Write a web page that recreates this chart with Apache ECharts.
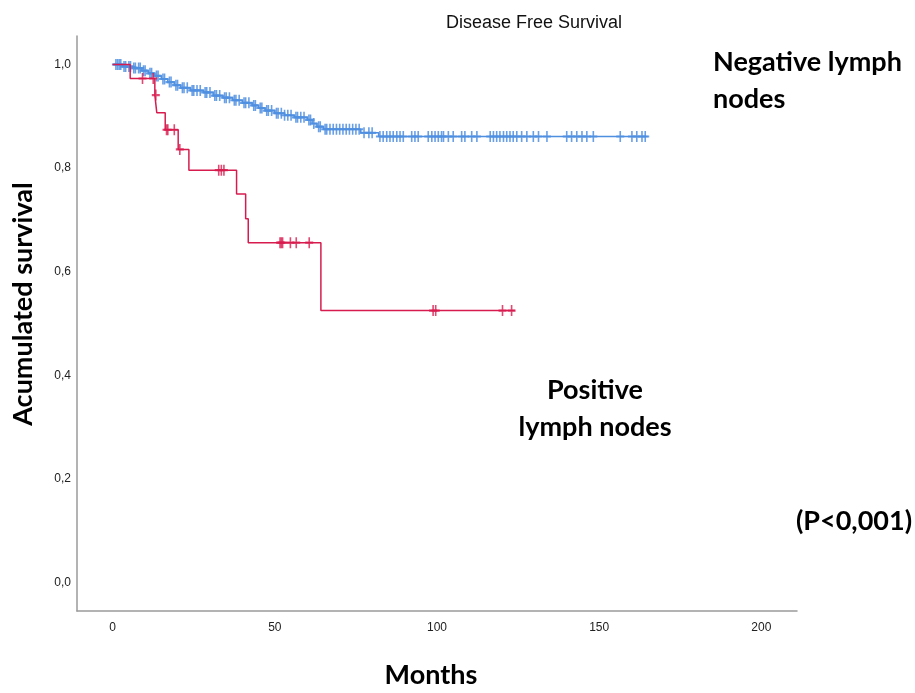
<!DOCTYPE html>
<html>
<head>
<meta charset="utf-8">
<script src="https://cdn.jsdelivr.net/npm/echarts@6/dist/echarts.min.js"></script>
<style>html,body{margin:0;padding:0;background:#fff}#c{width:915px;height:693px}</style>
</head>
<body>
<div id="c"></div>
<script>
// ---- data ----
var xTicks = [0, 50, 100, 150, 200];
var yTicks = [0, 0.2, 0.4, 0.6, 0.8, 1.0];

// Negative lymph nodes: event times (months) and survival after each event
var blueTimes = [0, 3, 6, 9, 11, 13, 15, 17, 19, 21, 24, 28, 31, 34, 37, 40, 43, 45, 47, 50, 53, 56, 60, 61.5, 63, 65, 76.5, 82];
var blueSurv  = [1.0, 0.996, 0.993, 0.988, 0.983, 0.978, 0.972, 0.966, 0.960, 0.955, 0.950, 0.946, 0.940, 0.936, 0.931, 0.926, 0.921, 0.916, 0.911, 0.906, 0.902, 0.898, 0.893, 0.886, 0.880, 0.875, 0.868, 0.861];
var blueEnd = 165;
var blueCensor = [1, 1.5, 2, 2.5, 3.5, 4, 5, 5.5, 6.5, 7, 8, 8.5, 9.5, 10, 11.5, 12, 13.5, 14, 15.5, 16, 17.5, 18, 19.5, 20, 21.5, 22, 23, 24.5, 25, 26, 27, 28.5, 29, 30, 31.5, 32, 33, 34.5, 35, 36, 37.5, 38, 39, 40.5, 41, 42, 43.5, 44, 45.5, 46, 47.5, 48, 49, 50.5, 51, 52, 53, 54, 55, 56.5, 57, 58, 59, 60.5, 61, 62, 63.5, 64, 65.5, 66, 67, 68, 69, 70, 71, 72, 73, 74, 75, 76, 77.5, 79, 80,
  82.4, 83.4, 84.5, 85.5, 86.5, 87.6, 88.6, 89.6, 92.2, 93.2, 94.2, 97.3, 98.4, 99.4, 100.4, 101.4, 102, 103.5, 105, 107.6, 108.6, 110.7, 112.3, 116.4, 117.4, 118.4, 119.4, 120.5, 121.5, 122.5, 123.5, 124.6, 126.1, 127.7, 129.7, 131.3, 133.9, 140, 141.5, 143.1, 144.7, 146.2, 148.2, 156.5, 160.1, 161.6, 163.2, 164.2];

// Positive lymph nodes
var redTimes = [0, 5.4, 13, 13.6, 16.2, 20.2, 23.5, 38.2, 41, 41.8, 64.2];
var redSurv  = [1.0, 0.973, 0.941, 0.907, 0.874, 0.836, 0.796, 0.750, 0.702, 0.656, 0.525];
var redEnd = 124;
var redCensor = [9.2, 12.5, 13.3, 16.6, 17, 19, 20.7, 32.7, 33.5, 34.3, 51.6, 52, 52.4, 54.8, 56.6, 60.6, 98.8, 99.6, 120.2, 123];

// ---- helpers ----
function stepData(times, surv, end) {
  var d = times.map(function (t, i) { return [t, surv[i]]; });
  d.push([end, surv[surv.length - 1]]);
  return d;
}
function survAt(times, surv, t) {
  var s = surv[0];
  for (var i = 0; i < times.length; i++) { if (times[i] <= t) s = surv[i]; }
  return s;
}
function censorData(times, surv, cens) {
  return cens.map(function (t) { return [t, survAt(times, surv, t)]; });
}

var BLUE = '#4f8fe0';
var RED = '#d81b4f';
var plus = 'path://M4,0 L6,0 L6,4 L10,4 L10,6 L6,6 L6,10 L4,10 L4,6 L0,6 L0,4 L4,4 Z';
var boldFont = 'bold 27px Lato';

var chart = echarts.init(document.getElementById('c'), null, { renderer: 'canvas' });
chart.setOption({
  animation: false,
  backgroundColor: '#fff',
  title: {
    text: 'Disease Free Survival',
    left: 529, top: 9, textAlign: 'center',
    textStyle: { fontFamily: 'Liberation Sans', fontSize: 18, fontWeight: 'normal', color: '#111' }
  },
  grid: { left: 77, right: 118, top: 36, bottom: 82, containLabel: false, outerBoundsMode: 'none' },
  xAxis: {
    type: 'value', min: -11, max: 211,
    axisLine: { show: true, onZero: false, lineStyle: { color: '#9a9a9a', width: 1.5 } },
    axisTick: { show: false },
    splitLine: { show: false },
    axisLabel: { customValues: xTicks, margin: 11, fontFamily: 'Liberation Sans', fontSize: 12, color: '#222' }
  },
  yAxis: {
    type: 'value', min: -0.055, max: 1.055,
    axisLine: { show: true, onZero: false, lineStyle: { color: '#9a9a9a', width: 1.5 } },
    axisTick: { show: false },
    splitLine: { show: false },
    axisLabel: {
      customValues: yTicks, margin: 6, fontFamily: 'Liberation Sans', fontSize: 12, color: '#222',
      formatter: function (v) { return v.toFixed(1).replace('.', ','); }
    }
  },
  series: [
    { type: 'line', step: 'end', showSymbol: false, data: stepData(blueTimes, blueSurv, blueEnd),
      lineStyle: { color: BLUE, width: 1.5 }, z: 2 },
    { type: 'scatter', symbol: plus, symbolSize: [8, 11], data: censorData(blueTimes, blueSurv, blueCensor),
      itemStyle: { color: BLUE, opacity: 0.85 }, z: 2 },
    { type: 'line', step: 'end', showSymbol: false, data: stepData(redTimes, redSurv, redEnd),
      lineStyle: { color: RED, width: 1.5 }, z: 3 },
    { type: 'scatter', symbol: plus, symbolSize: [8, 11], data: censorData(redTimes, redSurv, redCensor),
      itemStyle: { color: RED }, z: 3 }
  ],
  graphic: [
    { type: 'text', x: 23, y: 304, rotation: Math.PI / 2,
      style: { text: 'Acumulated survival', font: boldFont, fill: '#000', align: 'center', verticalAlign: 'middle' } },
    { type: 'text', x: 431, y: 675,
      style: { text: 'Months', font: boldFont, fill: '#000', align: 'center', verticalAlign: 'middle' } },
    { type: 'text', left: 713, top: 44, style: { text: 'Negative lymph\nnodes', lineHeight: 37, font: boldFont, fill: '#000' } },
    { type: 'text', x: 595, y: 372, style: { text: 'Positive\nlymph nodes', lineHeight: 37, font: boldFont, fill: '#000', align: 'center' } },
    { type: 'text', x: 854, y: 508, style: { text: '(P<0,001)', font: boldFont, fill: '#000', align: 'center' } }
  ]
});
</script>
</body>
</html>
